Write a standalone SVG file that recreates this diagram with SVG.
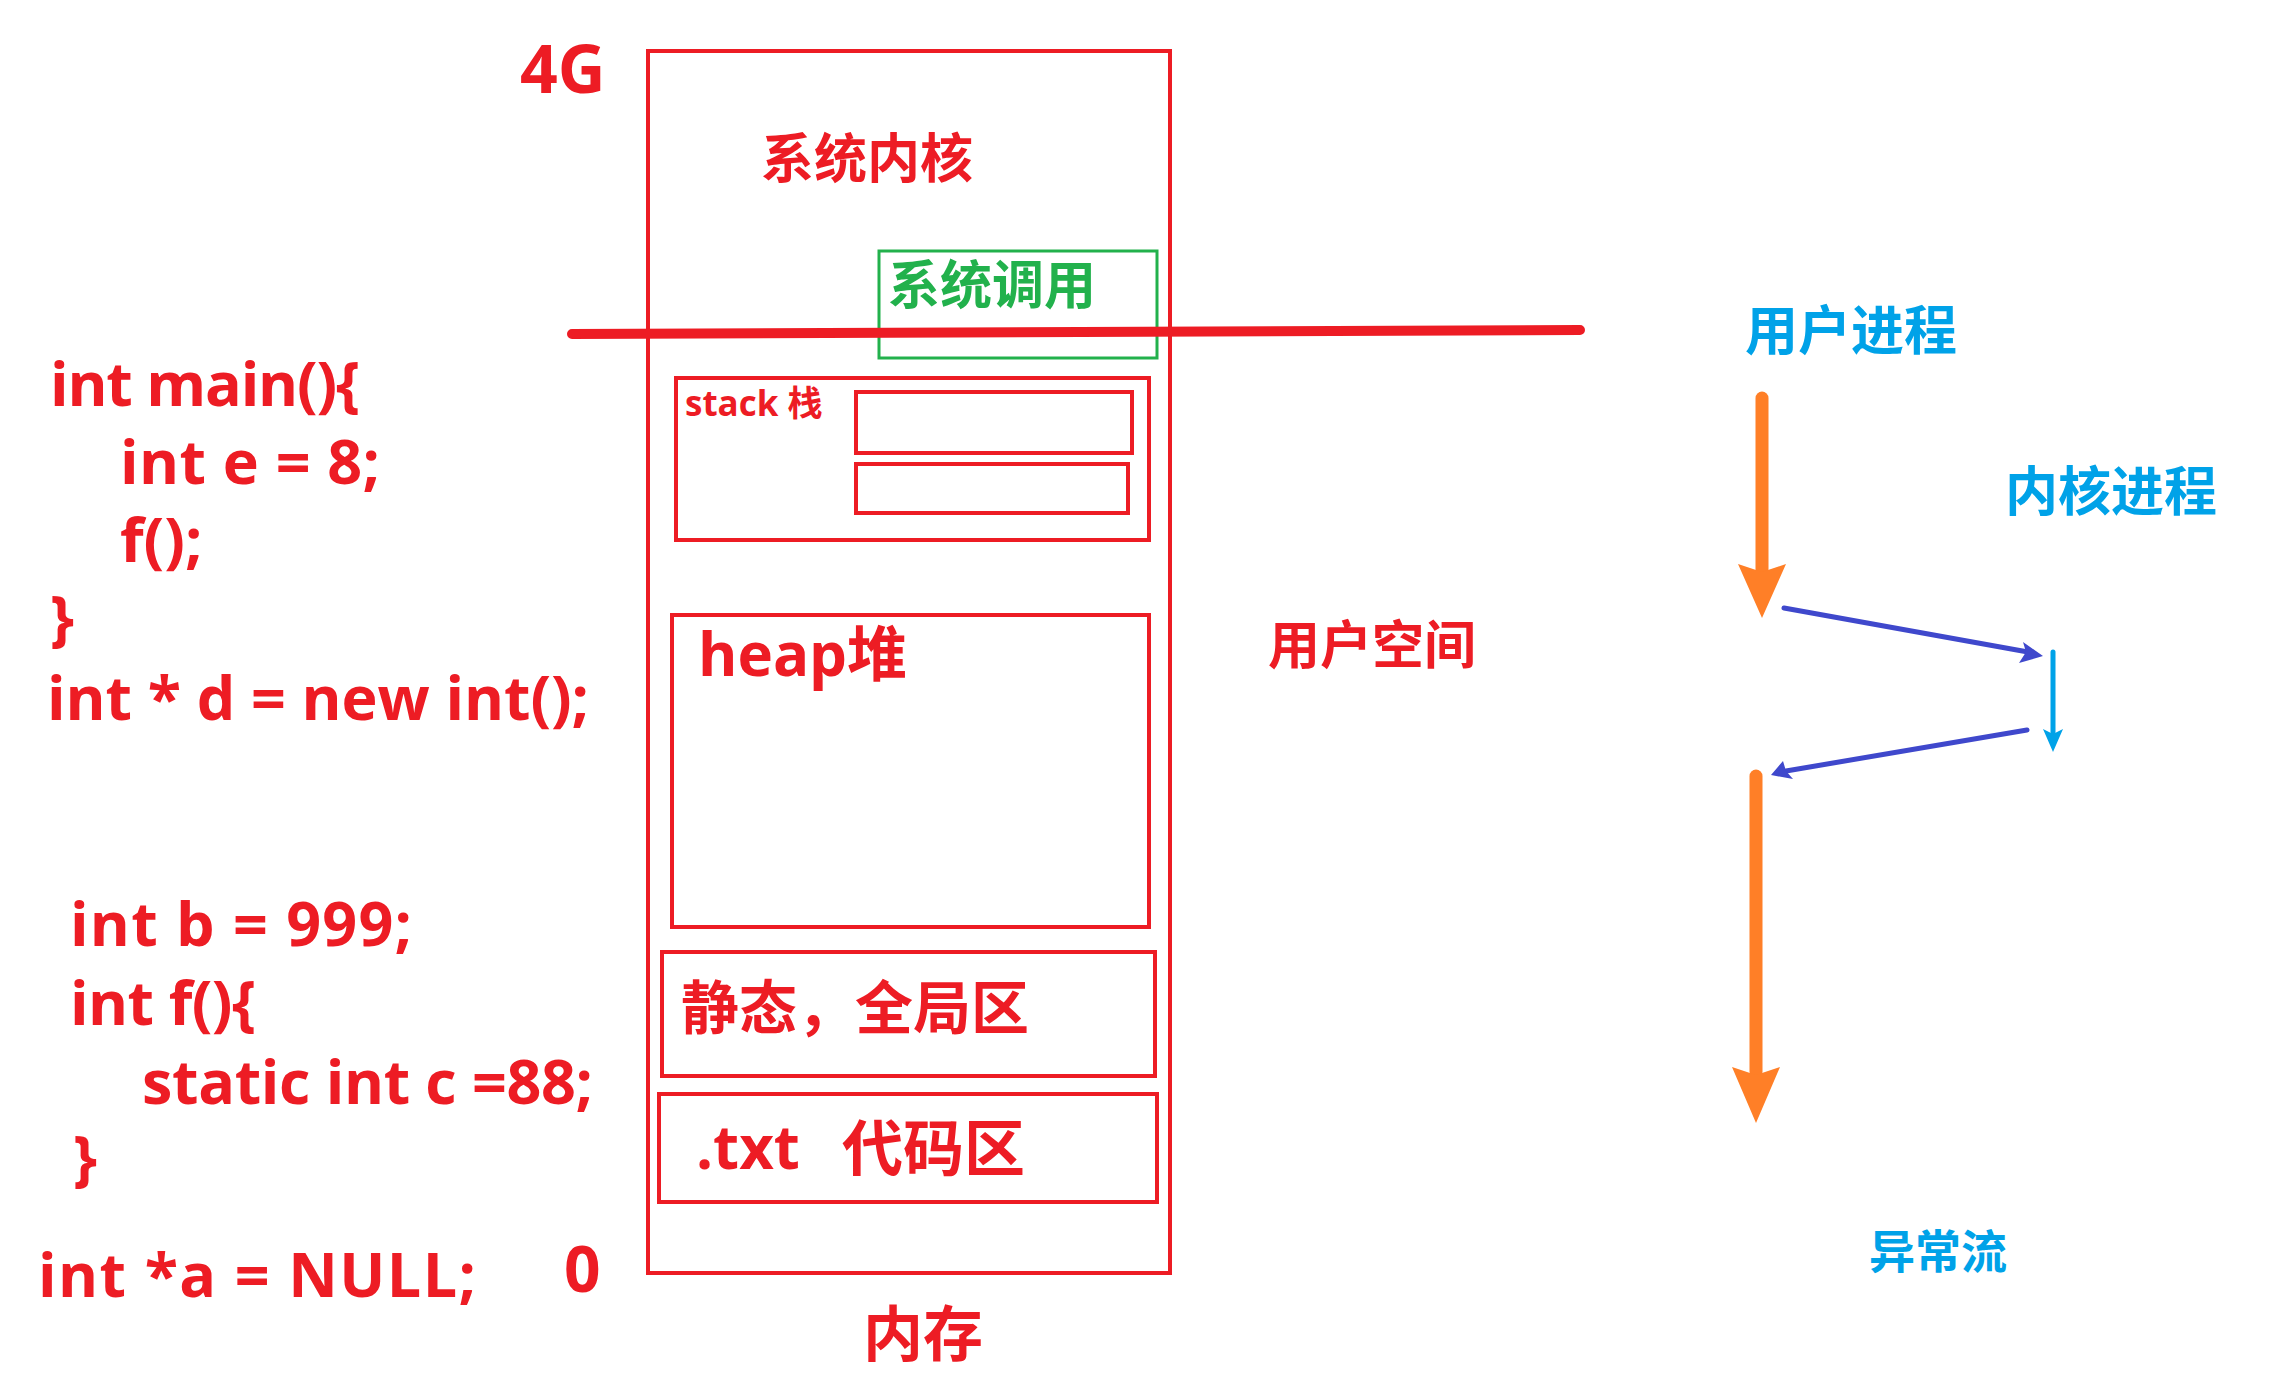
<svg xmlns="http://www.w3.org/2000/svg" width="2290" height="1376" viewBox="0 0 2290 1376">
<style>
.box{fill:none;stroke:#ED1C24;stroke-width:4}
.t{font-family:"Open Sans","Noto Sans CJK SC",sans-serif;font-weight:700;fill:#ED1C24}
.cjk{font-family:"Noto Sans CJK SC",sans-serif;font-weight:700}
.red{fill:#ED1C24}
.blue{fill:#00A2E8}
.green{fill:#22B14C}
.code{font-size:61px}
</style>
<rect width="2290" height="1376" fill="#fff"/>
<g id="code">
<text class="t code" x="50" y="406" textLength="310" lengthAdjust="spacing">int main(){</text>
<text class="t code" x="120" y="484" textLength="260" lengthAdjust="spacing">int e = 8;</text>
<text class="t code" x="120" y="562">f();</text>
<text class="t code" x="50" y="640">}</text>
<text class="t code" x="47" y="720" textLength="542" lengthAdjust="spacing">int * d = new int();</text>
<text class="t code" x="70" y="946" textLength="342" lengthAdjust="spacing">int b = 999;</text>
<text class="t code" x="70" y="1025" textLength="186" lengthAdjust="spacing">int f(){</text>
<text class="t code" x="142" y="1104" textLength="451" lengthAdjust="spacing">static int c =88;</text>
<text class="t code" x="73" y="1180">}</text>
<text class="t code" x="38" y="1297" textLength="438" lengthAdjust="spacing">int *a = NULL;</text>
</g>
<g id="memory">
<rect class="box" x="648" y="51" width="522" height="1222"/>
<text class="t" x="520" y="93" font-size="66">4G</text>
<text class="t" x="564" y="1292" font-size="64">0</text>
<text class="cjk red" x="863" y="1356" font-size="60">内存</text>
</g>
<g id="kernel">
<text class="cjk red" x="761" y="178" font-size="53">系统内核</text>
</g>
<g id="syscall">
<rect x="879" y="251" width="278" height="107" fill="none" stroke="#22B14C" stroke-width="3"/>
<text class="cjk green" x="888" y="304" font-size="52">系统调用</text>
</g>
<g id="divider">
<line x1="572" y1="334" x2="1580" y2="330" stroke="#ED1C24" stroke-width="10" stroke-linecap="round"/>
</g>
<g id="stack">
<rect class="box" x="676" y="378" width="473" height="162"/>
<rect class="box" x="856" y="392" width="276" height="61"/>
<rect class="box" x="856" y="464" width="272" height="49"/>
<text class="t" x="685" y="416" font-size="35">stack 栈</text>
</g>
<g id="heap">
<rect class="box" x="672" y="615" width="477" height="312"/>
<text class="t" x="698" y="676" font-size="60">heap堆</text>
</g>
<g id="static">
<rect class="box" x="662" y="952" width="493" height="124"/>
<text class="cjk red" x="681" y="1029" font-size="58">静态，全局区</text>
</g>
<g id="text-seg">
<rect class="box" x="659" y="1094" width="498" height="108"/>
<text class="t" x="696" y="1169" font-size="60">.txt</text>
<text class="cjk red" x="842" y="1171" font-size="61">代码区</text>
</g>
<g id="userspace">
<text class="cjk red" x="1268" y="664" font-size="52">用户空间</text>
</g>
<g id="labels">
<text class="cjk blue" x="1745" y="350" font-size="53">用户进程</text>
<text class="cjk blue" x="2005" y="511" font-size="53">内核进程</text>
<text class="cjk blue" x="1869" y="1268" font-size="46">异常流</text>
</g>
<g id="connectors">
<line x1="1762" y1="398" x2="1762" y2="570" stroke="#FF7F27" stroke-width="13" stroke-linecap="round"/>
<polygon points="1738,564 1762,572 1786,564 1762,618" fill="#FF7F27"/>
<line x1="1756" y1="776" x2="1756" y2="1072" stroke="#FF7F27" stroke-width="13" stroke-linecap="round"/>
<polygon points="1732,1067 1756,1075 1780,1067 1756,1123" fill="#FF7F27"/>
<line x1="1784" y1="608" x2="2028" y2="652" stroke="#3F48CC" stroke-width="5" stroke-linecap="round"/>
<polygon points="2043,656 2019,663 2026,652 2023,642" fill="#3F48CC"/>
<line x1="2027" y1="730" x2="1786" y2="771" stroke="#3F48CC" stroke-width="5" stroke-linecap="round"/>
<polygon points="1771,775 1793,779 1786,771 1783,761" fill="#3F48CC"/>
<line x1="2053" y1="652" x2="2053" y2="735" stroke="#00A2E8" stroke-width="5" stroke-linecap="round"/>
<polygon points="2043,729 2053,734 2063,729 2053,752" fill="#00A2E8"/>
</g>
</svg>
